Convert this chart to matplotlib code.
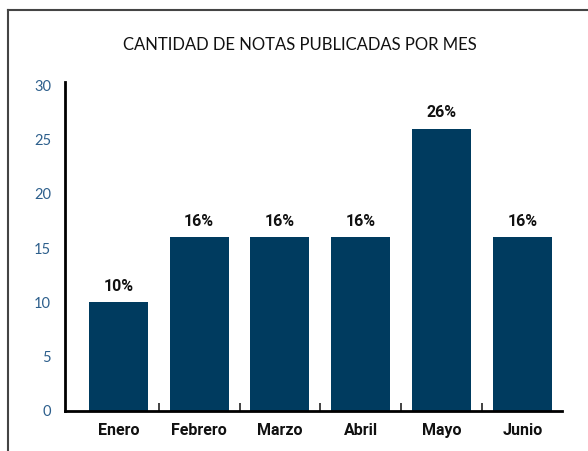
import numpy as np
import matplotlib
matplotlib.use('Agg')
import matplotlib.pyplot as plt
from matplotlib.lines import Line2D

# data
meses = ['Enero', 'Febrero', 'Marzo', 'Abril', 'Mayo', 'Junio']
notas = [10, 16, 16, 16, 26, 16]
etiquetas = ['10%', '16%', '16%', '16%', '26%', '16%']
yticks = [0, 5, 10, 15, 20, 25, 30]

azul = '#003b5f'
narrow = ['Roboto', 'DejaVu Sans']

fig = plt.figure(figsize=(5.88, 4.51), dpi=100)
ax = fig.add_axes([0.1105, 0.0887, 0.8453, 0.7293])

x = np.arange(len(meses))
bars = ax.bar(x, notas, width=0.73, color=azul)

for b, lab in zip(bars, etiquetas):
    ax.text(b.get_x() + b.get_width() / 2, b.get_height() + 0.8, lab,
            ha='center', va='bottom', fontsize=11.5, fontweight='bold',
            family=narrow, color='#111111')

ax.set_xlim(-0.66, 5.49)
ax.set_ylim(0, 30.3)
ax.set_yticks(yticks)
ax.set_yticklabels([str(t) for t in yticks], color='#2d5f8c', fontsize=10.5, family='Lato')
ax.tick_params(axis='y', length=0, pad=10)

ax.set_xticks(x)
ax.set_xticklabels(meses, fontsize=11.5, fontweight='bold', family=narrow, color='#111111')
ax.set_xticks(x[:-1] + 0.5, minor=True)
ax.tick_params(axis='x', which='major', length=0, pad=9)
ax.tick_params(axis='x', which='minor', direction='in', length=6, width=1.2, color='#222222')

for s in ['top', 'right']:
    ax.spines[s].set_visible(False)
ax.spines['left'].set_linewidth(2)
ax.spines['bottom'].set_linewidth(2)

fig.text(0.51, 0.90, 'CANTIDAD DE NOTAS PUBLICADAS POR MES', ha='center', va='center',
         fontsize=12, family='Lato', color='#111111')

# marco exterior
fig.add_artist(Line2D([8 / 588, 8 / 588], [0, 1 - 10 / 451], transform=fig.transFigure,
                      color='#444444', lw=1.5))
fig.add_artist(Line2D([8 / 588, 1], [1 - 10 / 451, 1 - 10 / 451], transform=fig.transFigure,
                      color='#444444', lw=1.5))

fig.savefig('out.png', dpi=100)
